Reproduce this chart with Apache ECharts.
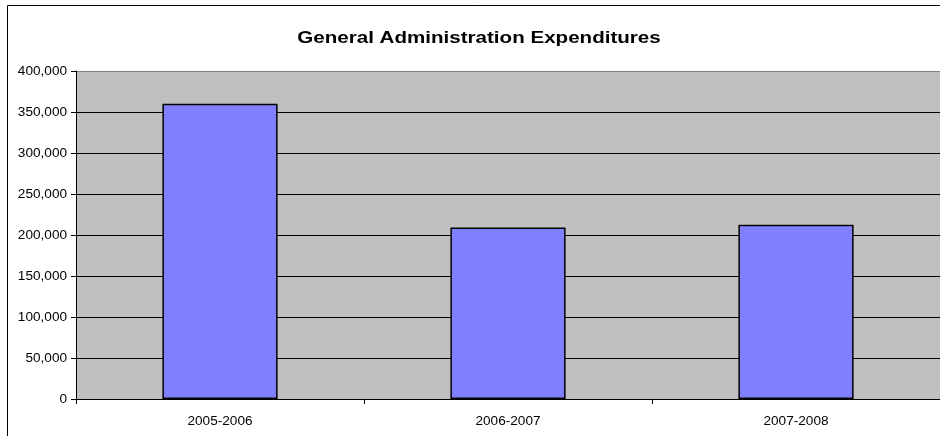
<!DOCTYPE html>
<html>
<head>
<meta charset="utf-8">
<script src="https://cdn.jsdelivr.net/npm/echarts@6/dist/echarts.min.js"></script>
<style>
  html, body { margin: 0; padding: 0; background: #fff; }
  #chart { width: 940px; height: 436px; }
</style>
</head>
<body>
<div id="chart"></div>
<script>
// Fiscal years and general administration spending (dollars)
const categories = ['2005-2006', '2006-2007', '2007-2008'];
const expenditures = [360000, 209000, 212500];
const chartTitle = 'General Administration Expenditures';

const yMin = 0, yMax = 400000, yStep = 50000;

// one colour per split line from 0 up to the top edge of the plot area
const splitColors = [];
for (let v = yMin; v <= yMax; v += yStep) splitColors.push(v === yMax ? '#808080' : '#000000');

const FONT = '"Liberation Sans", Arial, sans-serif';
const chart = echarts.init(document.getElementById('chart'), null, { renderer: 'canvas' });

chart.setOption({
  animation: false,
  backgroundColor: '#ffffff',
  textStyle: { fontFamily: FONT },
  graphic: [
    {
      // outer chart frame
      type: 'rect',
      shape: { x: 7.5, y: 5.5, width: 1000, height: 600 },
      style: { fill: 'none', stroke: '#000', lineWidth: 1 },
      silent: true, z: -1
    },
    {
      // title, drawn slightly widened
      type: 'text',
      x: 479, y: 38.5,
      scaleX: 1.21,
      style: {
        text: chartTitle,
        x: 0, y: 0,
        textAlign: 'center', textVerticalAlign: 'middle',
        fill: '#000',
        font: 'bold 17px ' + FONT
      },
      silent: true
    }
  ],
  grid: {
    left: 76, right: 0, top: 71, bottom: 37,
    show: true, backgroundColor: '#C0C0C0', borderWidth: 0
  },
  xAxis: {
    type: 'category',
    data: categories,
    axisLine: { show: true, lineStyle: { color: '#000', width: 1 } },
    axisTick: { show: true, alignWithLabel: false, length: 5, lineStyle: { color: '#000' } },
    axisLabel: { color: '#000', fontSize: 13.6, margin: 15 },
    splitLine: { show: false }
  },
  yAxis: {
    type: 'value',
    min: yMin, max: yMax, interval: yStep,
    axisLine: { show: true, lineStyle: { color: '#000', width: 1 } },
    axisTick: { show: true, inside: false, length: 5, lineStyle: { color: '#000' } },
    axisLabel: {
      color: '#000', fontSize: 13.6, margin: 9,
      formatter: v => v.toLocaleString('en-US')
    },
    splitLine: { show: true, lineStyle: { color: splitColors, width: 1 } }
  },
  series: [{
    type: 'bar',
    data: expenditures,
    barWidth: '40%',
    itemStyle: { color: '#8080FF', borderColor: '#000', borderWidth: 1.5 }
  }]
});
</script>
</body>
</html>
